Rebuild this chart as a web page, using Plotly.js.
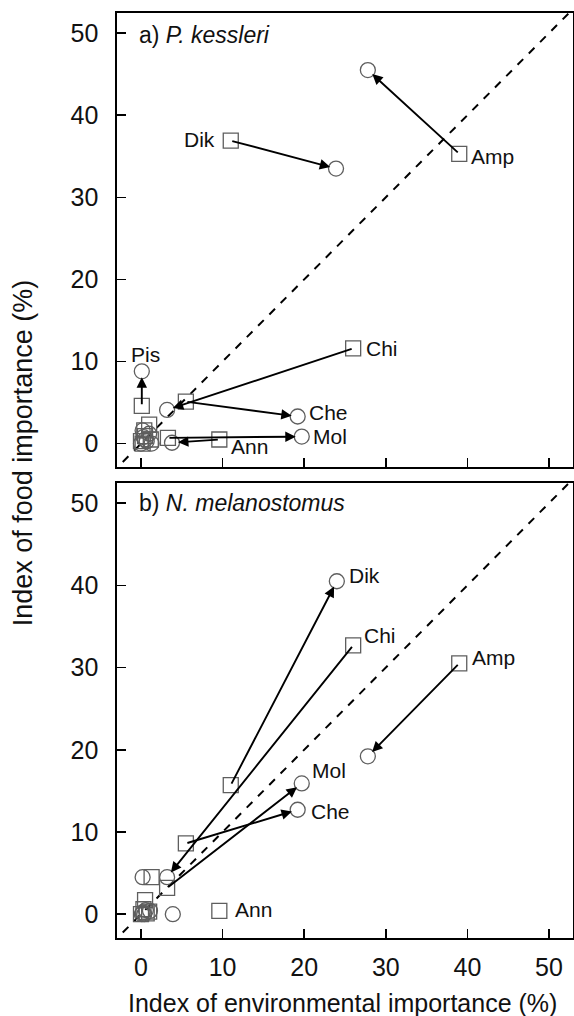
<!DOCTYPE html>
<html>
<head>
<meta charset="utf-8">
<script src="https://cdn.plot.ly/plotly-3.0.1.min.js"></script>
<style>html,body{margin:0;padding:0;background:#fff;}#chart{width:574px;height:1016px;}</style>
</head>
<body>
<div id="chart"></div>
<script>
// ---------- data ----------
const categories = ['Amp', 'Dik', 'Chi', 'Che', 'Mol', 'Ann', 'Pis'];

// Panel a) P. kessleri
const aSquareX = [39.0, 11.0, 26.0, 5.5, 3.3, 9.6, 0.1];
const aSquareY = [35.3, 36.9, 11.6, 5.1, 0.7, 0.5, 4.6];
const aCircleX = [27.8, 23.9, 3.2, 19.2, 19.7, 3.8, 0.1];
const aCircleY = [45.5, 33.5, 4.1, 3.3, 0.85, 0.1, 8.8];
const aArrow   = [true, true, true, true, true, true, true];

// Panel b) N. melanostomus
const bSquareX = [39.0, 11.0, 26.0, 5.5, 3.2, 9.6, 1.3];
const bSquareY = [30.5, 15.7, 32.7, 8.6, 3.2, 0.4, 4.5];
const bCircleX = [27.8, 24.0, 3.2, 19.2, 19.7, 3.9, 0.2];
const bCircleY = [19.2, 40.5, 4.5, 12.7, 15.9, 0.0, 4.5];
const bArrow   = [true, true, true, true, true, false, false];

// other (unlabelled) prey groups near the origin
const aOtherSqX = [0.0, 0.5, 1.0, 1.2, 0.4, 0.2];
const aOtherSqY = [0.3, 0.9, 2.3, 0.5, 1.6, 0.0];
const aOtherCiX = [0.0, 0.3, 0.7, 1.0, 0.2, 1.3, 0.5];
const aOtherCiY = [0.0, 0.8, 0.3, 1.2, 1.6, 0.0, 0.5];
const bOtherSqX = [0.0, 0.5, 1.0, 0.3, 0.7];
const bOtherSqY = [0.0, 1.7, 0.3, 0.6, 0.1];
const bOtherCiX = [0.2, 0.6, 1.1, 0.1, 0.4];
const bOtherCiY = [0.2, 0.5, 0.4, 0.0, 0.0];

const tickValues = [0, 10, 20, 30, 40, 50];
const oneToOne = [-5, 60];

// ---------- label placement (style) ----------
const aLabels = {
  Amp: {at: 'sq', dx: 10, dy: -3, anchor: 'left'},
  Dik: {at: 'sq', dx: -14, dy: 1, anchor: 'right'},
  Chi: {at: 'sq', dx: 11, dy: 0, anchor: 'left'},
  Che: {at: 'ci', dx: 9, dy: 4, anchor: 'left'},
  Mol: {at: 'ci', dx: 9, dy: 0, anchor: 'left'},
  Ann: {at: 'sq', dx: 10, dy: -7, anchor: 'left'},
  Pis: {at: 'ci', dx: 4, dy: 17, anchor: 'center'}
};
const bLabels = {
  Amp: {at: 'sq', dx: 11, dy: 6, anchor: 'left'},
  Dik: {at: 'ci', dx: 10, dy: 6, anchor: 'left'},
  Chi: {at: 'sq', dx: 9, dy: 10, anchor: 'left'},
  Che: {at: 'ci', dx: 11, dy: -2, anchor: 'left'},
  Mol: {at: 'ci', dx: 8, dy: 13, anchor: 'left'},
  Ann: {at: 'sq', dx: 14, dy: 1, anchor: 'left'}
};

const FONT = 'Liberation Sans, Arial, Helvetica, sans-serif';
const MCOL = '#5e5e5e';
const sqMarker = {symbol: 'square-open', size: 15, color: MCOL, line: {width: 1.3, color: MCOL}};
const ciMarker = {symbol: 'circle-open', size: 15, color: MCOL, line: {width: 1.3, color: MCOL}};

const traces = [];
const annotations = [];

function addPanel(xa, ya, sqX, sqY, ciX, ciY, arrows, labels, oSqX, oSqY, oCiX, oCiY) {
  traces.push({x: oneToOne, y: oneToOne, xaxis: xa, yaxis: ya, mode: 'lines',
    line: {color: '#000', width: 2, dash: '8px,8px'}, hoverinfo: 'skip', showlegend: false});
  traces.push({x: oSqX, y: oSqY, xaxis: xa, yaxis: ya, mode: 'markers', marker: sqMarker, showlegend: false, cliponaxis: false});
  traces.push({x: oCiX, y: oCiY, xaxis: xa, yaxis: ya, mode: 'markers', marker: ciMarker, showlegend: false, cliponaxis: false});
  traces.push({x: sqX, y: sqY, text: categories, xaxis: xa, yaxis: ya, mode: 'markers', marker: sqMarker, showlegend: false, cliponaxis: false});
  traces.push({x: ciX, y: ciY, text: categories, xaxis: xa, yaxis: ya, mode: 'markers', marker: ciMarker, showlegend: false, cliponaxis: false});
  categories.forEach((c, i) => {
    if (arrows[i]) {
      annotations.push({xref: xa, yref: ya, axref: xa, ayref: ya,
        x: ciX[i], y: ciY[i], ax: sqX[i], ay: sqY[i], text: '', showarrow: true,
        arrowhead: 2, arrowsize: 1.1, arrowwidth: 1.9, arrowcolor: '#000',
        standoff: 6, startstandoff: 0});
    }
    const lab = labels[c];
    if (lab) {
      const px = lab.at === 'sq' ? sqX[i] : ciX[i];
      const py = lab.at === 'sq' ? sqY[i] : ciY[i];
      annotations.push({xref: xa, yref: ya, x: px, y: py, text: c, showarrow: false,
        xanchor: lab.anchor, yanchor: 'middle', xshift: lab.dx, yshift: lab.dy,
        font: {family: FONT, size: 21, color: '#111'}});
    }
  });
}

addPanel('x', 'y', aSquareX, aSquareY, aCircleX, aCircleY, aArrow, aLabels, aOtherSqX, aOtherSqY, aOtherCiX, aOtherCiY);
addPanel('x2', 'y2', bSquareX, bSquareY, bCircleX, bCircleY, bArrow, bLabels, bOtherSqX, bOtherSqY, bOtherCiX, bOtherCiY);

// panel titles
annotations.push({xref: 'x domain', yref: 'y domain', x: 0.044, y: 0.952, xanchor: 'left', yanchor: 'middle',
  text: 'a) <i>P. kessleri</i>', showarrow: false, font: {family: FONT, size: 23, color: '#111'}});
annotations.push({xref: 'x2 domain', yref: 'y2 domain', x: 0.044, y: 0.956, xanchor: 'left', yanchor: 'middle',
  text: 'b) <i>N. melanostomus</i>', showarrow: false, font: {family: FONT, size: 23, color: '#111'}});
// axis titles
annotations.push({xref: 'paper', yref: 'paper', x: 0.495, y: -0.0703, xanchor: 'center', yanchor: 'middle',
  text: 'Index of environmental importance (%)', showarrow: false, borderpad: 0,
  font: {family: FONT, size: 25, color: '#111'}});
annotations.push({xref: 'paper', yref: 'paper', x: -0.206, y: 0.524, xanchor: 'center', yanchor: 'middle', textangle: -90,
  text: 'Index of food importance (%)', showarrow: false, font: {family: FONT, size: 27, color: '#111'}});

function axis(extra) {
  return Object.assign({
    showline: true, linecolor: '#000', linewidth: 1.6, mirror: true,
    ticks: 'inside', ticklen: 9, tickwidth: 1.5, tickcolor: '#000',
    tickvals: tickValues, showgrid: false, zeroline: false,
    tickfont: {family: FONT, size: 25, color: '#111'}
  }, extra);
}

const layout = {
  width: 574, height: 1016,
  margin: {l: 117, r: 1, t: 13, b: 78},
  paper_bgcolor: '#fff', plot_bgcolor: '#fff',
  showlegend: false,
  xaxis: axis({range: [-2.94, 52.94], anchor: 'y', showticklabels: false}),
  yaxis: axis({range: [-2.85, 52.45], domain: [0.5092, 1], anchor: 'x', ticklabelstandoff: 12}),
  xaxis2: axis({range: [-2.94, 52.94], anchor: 'y2', ticklabelstandoff: 6}),
  yaxis2: axis({range: [-2.9, 52.45], domain: [0, 0.4919], anchor: 'x2', ticklabelstandoff: 12}),
  annotations: annotations
};

Plotly.newPlot('chart', traces, layout, {staticPlot: true, displayModeBar: false});
</script>
</body>
</html>
